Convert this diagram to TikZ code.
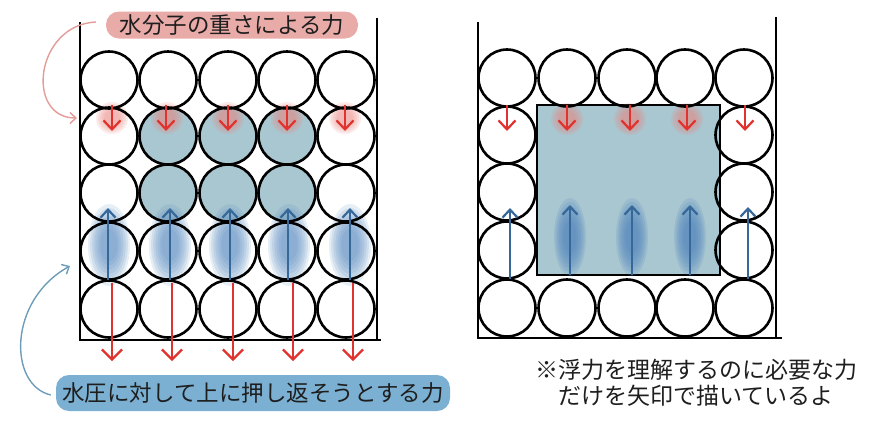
\documentclass[tikz,border=0pt]{standalone}
\usepackage{fontspec}
\setmainfont{Noto Sans CJK JP}
\usetikzlibrary{arrows.meta}

\definecolor{molfill}{HTML}{A9C7D1}
\definecolor{redarrow}{HTML}{E0322E}
\definecolor{redglow}{HTML}{E8857F}
\definecolor{bluearrow}{HTML}{36689A}
\definecolor{bluesmudge}{HTML}{4F84BC}
\definecolor{pinklabel}{HTML}{E9ABA8}
\definecolor{bluelabel}{HTML}{7BB0D3}
\definecolor{pinkline}{HTML}{E39C98}
\definecolor{blueline}{HTML}{6E9DBA}
\definecolor{inktext}{HTML}{1E1E1E}

\tikzset{
  mol/.style={circle, draw=black, line width=2.6pt, inner sep=0pt, minimum size=57pt},
  wall/.style={draw=black, line width=2.2pt},
  downforce/.style={draw=redarrow, line width=2.6pt, -{Straight Barb[length=10pt,width=20pt,line width=2.2pt]}},
  smalldown/.style={draw=redarrow, line width=2.4pt, -{Straight Barb[length=9pt,width=17pt,line width=2.2pt]}},
  upforce/.style={draw=bluearrow, line width=2.8pt, -{Straight Barb[length=8pt,width=15pt,line width=2.2pt]}},
  label/.style={text=inktext, font=\fontsize{22.5}{26}\selectfont, inner sep=0pt, rounded corners=13pt},
  note/.style={text=inktext, font=\fontsize{23}{26}\selectfont, align=center, inner sep=0pt},
}

% soft red glow: stacked translucent discs
\newcommand{\glowat}[2]{%
  \foreach \rr in {16,14,12,10,8}
    \fill[redglow, opacity=0.16] (#1,#2) circle (\rr pt);}
% soft blue smudge: stacked translucent ellipses
\newcommand{\smudgeat}[5]{% x, y, rx, ry, opacity per layer
  \foreach \ss in {1,0.9,0.8,0.7,0.6,0.5,0.4}
    \fill[bluesmudge, opacity=#5] (#1,#2) ellipse ({#3*\ss pt} and {#4*\ss pt});}

\begin{document}
\begin{tikzpicture}[x=1pt, y=-1pt]
\useasboundingbox (0,0) rectangle (870,421);

% ---------- left container: water column ----------
% molecules carrying weight (rows 2 and 3, middle columns)
\foreach \cx in {168,228,287} {
  \foreach \cy in {136,193} {
    \fill[molfill] (\cx,\cy) circle (28.5pt);
  }
}
% soft glows and smudges
\foreach \gx in {112,167,228,287,345} { \glowat{\gx}{118} }
\foreach \sx in {109,170,230,289,350} { \smudgeat{\sx}{245}{21}{41}{0.14} }
% molecule outlines
\foreach \cx [count=\c] in {109,168,228,287,346} {
  \foreach \cy [count=\r] in {80,136,193,251,309} {
    \node[mol] (L-\r-\c) at (\cx,\cy) {};
  }
}
% container walls
\draw[wall] (80,22) -- (80,340) -- (381,340);
\draw[wall] (377,18) -- (377,340);

% forces from the weight of water
\foreach \ax in {112,166,228,287,345} { \draw[smalldown] (\ax,105) -- (\ax,131); }
% pushing-back forces
\foreach \ax in {108,170,230,288,350} { \draw[upforce] (\ax,280) -- (\ax,208); }
% water pressure downwards
\foreach \ax in {112,172,233,293,353} { \draw[downforce] (\ax,283) -- (\ax,361); }

% labels
\node[label, fill=pinklabel, minimum width=252pt, minimum height=27pt] (weight) at (232,25) {水分子の重さによる力};
\node[label, fill=bluelabel, minimum width=394pt, minimum height=36pt] (pushback) at (253,393) {水圧に対して上に押し返そうとする力};

\coordinate (weighttip) at (77,118);
\coordinate (pushtip) at (70,266);
\draw[pinkline, line width=1.4pt, -{Straight Barb[length=6pt,width=11pt]}]
  (weight.west) ++(-10,-3) .. controls (35,25) and (25,118) .. (weighttip);
\draw[blueline, line width=1.4pt, -{Straight Barb[length=6pt,width=11pt]}]
  (pushback.west) ++(-5,2) .. controls (8,385) and (8,300) .. (pushtip);

% ---------- right container: submerged block ----------
\fill[molfill] (537,105) rectangle (720,275);
\draw[black, line width=2pt] (537,105) rectangle (720,275);
\foreach \gx in {567,630,687} { \glowat{\gx}{119} }
\foreach \sx in {570,632,690} { \smudgeat{\sx}{237}{16}{39}{0.17} }

% top row and bottom row of molecules
\foreach \cx [count=\c] in {507,567,627,685,744} {
  \node[mol] (R-1-\c) at (\cx,78) {};
  \node[mol] (R-5-\c) at (\cx,308) {};
}
% side columns beside the block
\foreach \cy [count=\r from 2] in {135,192,250} {
  \node[mol] (R-\r-1) at (507,\cy) {};
  \node[mol] (R-\r-5) at (744,\cy) {};
}
\draw[wall] (478,22) -- (478,338) -- (782,338);
\draw[wall] (776,17) -- (776,338);

\foreach \ax in {507,567,630,687,745} { \draw[smalldown] (\ax,105) -- (\ax,131); }
\draw[upforce] (510,279) -- (510,208);
\foreach \ax in {570,632,690} { \draw[upforce] (\ax,275) -- (\ax,205); }
\draw[upforce] (748,279) -- (748,207);

% note
\node[note] (remark) at (696,383) {※浮力を理解するのに必要な力\\だけを矢印で描いているよ};
\end{tikzpicture}
\end{document}
